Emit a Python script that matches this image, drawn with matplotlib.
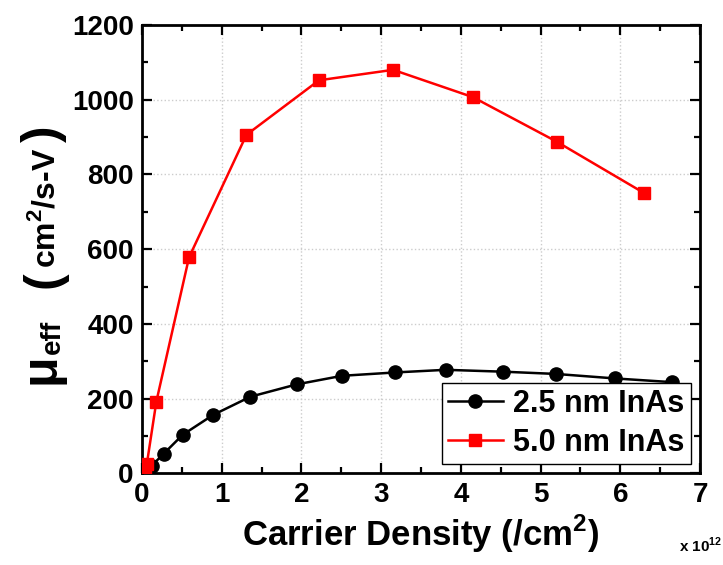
import numpy as np
import matplotlib
matplotlib.use('Agg')
import matplotlib.pyplot as plt
from matplotlib.ticker import MultipleLocator

plt.rcParams['font.family'] = ['Liberation Sans', 'DejaVu Sans']
plt.rcParams['font.weight'] = 'bold'
plt.rcParams['mathtext.fontset'] = 'custom'
plt.rcParams['mathtext.rm'] = 'Liberation Sans:bold'
plt.rcParams['mathtext.bf'] = 'Liberation Sans:bold'

# carrier density in units of 1e12 /cm^2, mobility in cm^2/s-V
density_25 = [0.12, 0.27, 0.51, 0.89, 1.36, 1.94, 2.51, 3.18, 3.81, 4.53, 5.19, 5.93, 6.65]
mobility_25 = [20, 52, 103, 156, 205, 238, 261, 270, 277, 272, 266, 254, 244]

density_50 = [0.04, 0.06, 0.18, 0.59, 1.31, 2.22, 3.15, 4.15, 5.20, 6.30]
mobility_50 = [8, 24, 192, 578, 906, 1052, 1080, 1007, 888, 750]

W, H = 723, 565
fig = plt.figure(figsize=(W / 100, H / 100), dpi=100)
ax = fig.add_axes([142 / W, 1 - 473.3 / H, (700 - 142) / W, (473.3 - 25) / H])

ax.plot(density_25, mobility_25, color='black', lw=1.8, marker='o', ms=9.5,
        label='2.5 nm InAs', zorder=3)
ax.plot(density_50, mobility_50, color='red', lw=1.8, marker='s', ms=8.5,
        label='5.0 nm InAs', zorder=4)

ax.set_xlim(0, 7)
ax.set_ylim(0, 1200)
ax.xaxis.set_major_locator(MultipleLocator(1))
ax.xaxis.set_minor_locator(MultipleLocator(0.5))
ax.yaxis.set_major_locator(MultipleLocator(200))
ax.yaxis.set_minor_locator(MultipleLocator(100))
ax.tick_params(which='both', direction='in', top=True, right=True, width=1.6)
ax.tick_params(which='major', length=7, labelsize=20, pad=6)
ax.tick_params(which='minor', length=4)
for lab in ax.get_xticklabels() + ax.get_yticklabels():
    lab.set_fontweight('bold')
for s in ax.spines.values():
    s.set_linewidth(2)
ax.grid(True, which='major', color='#cccccc', linestyle=':', linewidth=1)
ax.set_axisbelow(True)

ax.set_xlabel('Carrier Density (/cm$^2$)', fontsize=25, fontweight='bold', labelpad=4)

# y label assembled from pieces: mu with subscript, big parentheses, units
def ytext(x, y, s, size):
    fig.text(x / W, 1 - y / H, s, rotation=90, rotation_mode='anchor',
             ha='left', va='baseline', fontsize=size, fontweight='bold')

ytext(54, 384, 'μ', 36)
ytext(60, 354, 'eff', 20)
ytext(57, 288, '(', 36)
ytext(55, 268, 'cm$^2$/s-V', 23)
ytext(57, 142, ')', 36)

fig.text(722 / W, 1 - 552 / H, 'x 10$^{12}$', ha='right', va='baseline',
         fontsize=11, fontweight='bold')

leg = ax.legend(loc='lower right', fontsize=22, handlelength=1.8, handletextpad=0.35,
                labelspacing=0.3, borderpad=0.2, borderaxespad=0.3,
                fancybox=False, framealpha=1, edgecolor='black')
leg.get_frame().set_linewidth(1)
for t in leg.get_texts():
    t.set_fontweight('bold')

fig.savefig('out.png', dpi=100)
